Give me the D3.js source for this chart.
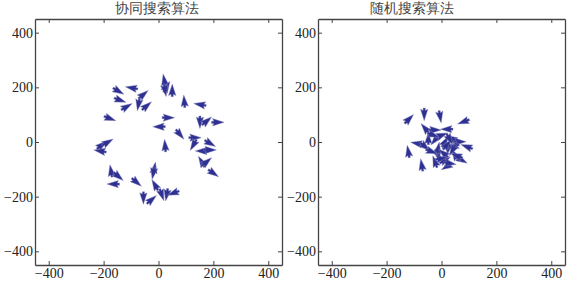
<!DOCTYPE html>
<html>
<head>
<meta charset="utf-8">
<title>搜索算法对比</title>
<script src="https://d3js.org/d3.v7.min.js"></script>
<style>
  body { margin: 0; background: #fff; }
  text { font-family: "Liberation Serif", "DejaVu Serif", serif; }
</style>
</head>
<body>
<svg id="chart" width="567" height="281"></svg>
<script>
// left panel: 协同搜索算法 (x, y in data units, angle in degrees, ccw from +x)
const leftX = [-146,-98,-55,-140,-116,-73,-43,21,30,24,50,94,151,-177,36,2,78,24,151,176,216,133,127,188,157,188,157,176,200,-207,-213,-185,-173,-146,-165,-80,-15,-19,-13,-55,-25,12,30,54];
const leftY = [186,198,174,153,129,137,132,226,202,189,189,149,137,86,89,56,28,-13,72,77,72,16,-11,-5,-33,-29,-72,-72,-114,-11,-33,-1,-106,-126,-154,-147,-96,-114,-157,-205,-211,-193,-193,-187];
const leftAng = [-30,170,40,-20,30,-100,40,100,60,-80,90,95,170,-20,0,180,-50,95,-90,40,0,0,-120,-30,180,0,120,40,-35,40,170,30,100,-40,180,-40,80,-100,120,-90,40,-70,-100,200];

// right panel: 随机搜索算法
const rightX = [-118,-63,-5,80,-60,-24,19,-48,-24,13,37,67,92,-121,-90,-60,-72,-12,13,19,49,74,-12,25,1,-36,43,7,31,-24,20,40,0,55,30,-30];
const rightY = [84,101,92,74,50,44,47,13,7,1,13,1,-17,-35,-5,-17,-84,-47,-66,-90,-47,-66,-23,-23,25,-35,-17,-41,-78,-72,-10,-30,-60,-50,10,25];
const rightAng = [45,-90,-80,200,130,0,180,90,-130,60,150,0,160,100,170,-40,100,-60,30,-150,120,-30,80,-100,20,-20,200,140,-10,110,50,-120,10,160,-60,-20];

const titles = ["协同搜索算法", "随机搜索算法"];
const tickVals = [-400, -200, 0, 200, 400];
const DOMAIN = [-450, 450];

const svg = d3.select("#chart");
const W = 247, H = 246, TOP = 19;
const panels = [
  {left: 35, titleX: 157, xs: leftX, ys: leftY, angs: leftAng},
  {left: 318, titleX: 412, xs: rightX, ys: rightY, angs: rightAng}
];

const ARROW_COLOR = "#2f3192";
// quiver-style arrow, pointing along +x, centred on origin
const arrowPath = "M-6.3,-1.1 L-4,-1.1 L-5.2,-3.7 L6.3,0 L-5.2,3.7 L-4,1.1 L-6.3,1.1 Z";

panels.forEach((p, k) => {
  const x = d3.scaleLinear().domain(DOMAIN).range([0, W]);
  const y = d3.scaleLinear().domain(DOMAIN).range([H, 0]);
  const g = svg.append("g").attr("transform", `translate(${p.left},${TOP})`);

  const fmt = d => d < 0 ? "\u2212" + Math.abs(d) : String(d);

  // axes: bottom/left with labels, top/right just ticks; ticks point inward
  const bottom = g.append("g").attr("transform", `translate(0,${H})`)
    .call(d3.axisBottom(x).tickValues(tickVals).tickSizeInner(-4).tickSizeOuter(0).tickPadding(3).tickFormat(fmt));
  const left = g.append("g")
    .call(d3.axisLeft(y).tickValues(tickVals).tickSizeInner(-4).tickSizeOuter(0).tickPadding(2).tickFormat(fmt));
  const top = g.append("g")
    .call(d3.axisTop(x).tickValues(tickVals).tickSizeInner(-4).tickSizeOuter(0).tickFormat(""));
  const right = g.append("g").attr("transform", `translate(${W},0)`)
    .call(d3.axisRight(y).tickValues(tickVals).tickSizeInner(-4).tickSizeOuter(0).tickFormat(""));

  [bottom, left, top, right].forEach(a => {
    a.select(".domain").attr("stroke", "#444").attr("stroke-width", 1.3);
    a.selectAll(".tick line").attr("stroke", "#444").attr("stroke-width", 1);
    a.selectAll("text").attr("font-family", "Liberation Serif, serif")
      .attr("font-size", 14).attr("fill", "#222");
  });

  // arrows
  const data = p.xs.map((v, i) => ({x: v, y: p.ys[i], a: p.angs[i]}));
  g.append("g").selectAll("path")
    .data(data)
    .enter()
    .append("path")
    .attr("d", arrowPath)
    .attr("transform", d => `translate(${x(d.x)},${y(d.y)}) rotate(${-d.a})`)
    .attr("fill", ARROW_COLOR)
    .attr("stroke", "#8c8cc0")
    .attr("stroke-width", 0.4);

  svg.append("text")
    .attr("x", p.titleX)
    .attr("y", 13)
    .attr("text-anchor", "middle")
    .attr("font-family", "Noto Sans CJK SC, sans-serif")
    .attr("font-size", 14)
    .attr("fill", "#444")
    .text(titles[k]);
});
</script>
</body>
</html>
